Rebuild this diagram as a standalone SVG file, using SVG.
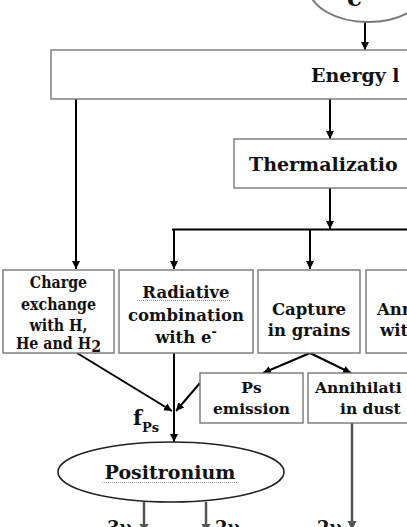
<svg xmlns="http://www.w3.org/2000/svg" width="407" height="527" viewBox="0 0 407 527">
<defs>
<style>
.box{fill:#fff;stroke:#777;stroke-width:1.4}
.t{font-family:"DejaVu Serif",serif;font-weight:bold;fill:#111}
.s{font-size:16.5px;text-anchor:middle}
.c{font-family:"DejaVu Serif Condensed","DejaVu Serif",serif;font-size:15.8px}
.m{font-size:15.5px}
.big{font-size:19px}
.ln{stroke:#000;stroke-width:2;fill:none}
.gl{stroke:#555;stroke-width:2.5;fill:none}
.ul{stroke:#999;stroke-width:1;stroke-dasharray:1 1;fill:none}
</style>
<marker id="ah" viewBox="0 0 10 10" refX="10" refY="5" markerWidth="8" markerHeight="10" markerUnits="userSpaceOnUse" orient="auto"><path d="M0,0L10,5L0,10z" fill="#000"/></marker>
<marker id="ag" viewBox="0 0 10 10" refX="10" refY="5" markerWidth="9" markerHeight="10" markerUnits="userSpaceOnUse" orient="auto"><path d="M0,0L10,5L0,10z" fill="#555"/></marker>
</defs>
<rect width="407" height="527" fill="#fff"/>

<g id="connectors">
<line class="ln" x1="365" y1="22" x2="365" y2="50" marker-end="url(#ah)"/>
<line class="ln" x1="76" y1="99" x2="76" y2="269" marker-end="url(#ah)"/>
<line class="ln" x1="330" y1="99" x2="330" y2="139" marker-end="url(#ah)"/>
<line class="ln" x1="330" y1="188" x2="330" y2="229" marker-end="url(#ah)"/>
<line class="ln" x1="172" y1="229.5" x2="410" y2="229.5"/>
<line class="ln" x1="174" y1="229" x2="174" y2="269" marker-end="url(#ah)"/>
<line class="ln" x1="310" y1="229" x2="310" y2="269" marker-end="url(#ah)"/>
<line class="ln" x1="77" y1="353" x2="172" y2="411" marker-end="url(#ah)"/>
<line class="ln" x1="200" y1="383" x2="176" y2="411" marker-end="url(#ah)"/>
<line class="ln" x1="174" y1="353" x2="174" y2="442" marker-end="url(#ah)"/>
<line class="ln" x1="310" y1="353" x2="263" y2="373" marker-end="url(#ah)"/>
<line class="ln" x1="310" y1="353" x2="351" y2="373" marker-end="url(#ah)"/>
<line class="gl" x1="144" y1="502" x2="144" y2="533" marker-end="url(#ag)"/>
<line class="gl" x1="206" y1="502" x2="206" y2="533" marker-end="url(#ag)"/>
<line class="gl" x1="352" y1="423" x2="352" y2="530" marker-end="url(#ag)"/>
</g>

<g id="electron">
<ellipse cx="368" cy="-13" rx="59" ry="35" fill="#fff" stroke="#777" stroke-width="2"/>
<text class="t" x="347" y="6" style="font-size:24px">e</text>
</g>

<g id="energy">
<rect class="box" x="51" y="50" width="370" height="49"/>
<text class="t big" x="311" y="82">Energy l</text>
</g>

<g id="thermalization">
<rect class="box" x="234" y="139" width="190" height="49" stroke="#333"/>
<text class="t big" x="249" y="171">Thermalizatio</text>
</g>

<g id="charge">
<rect class="box" x="3" y="270" width="111" height="83"/>
<text class="t s c" x="58.5" y="288">Charge</text>
<text class="t s c" x="58.5" y="310">exchange</text>
<text class="t s c" x="58.5" y="331">with H,</text>
<text class="t s c" x="58.5" y="349">He and H<tspan dy="3">2</tspan></text>
</g>

<g id="radiative">
<rect class="box" x="119" y="270" width="134" height="83"/>
<text class="t s" x="186" y="298">Radiative</text>
<line class="ul" x1="137" y1="300.5" x2="230" y2="300.5"/>
<text class="t s" x="186" y="321">combination</text>
<text class="t s" x="186" y="343">with e<tspan dy="-7" font-size="13">-</tspan></text>
</g>

<g id="capture">
<rect class="box" x="258" y="270" width="102" height="83"/>
<text class="t s" x="309" y="315">Capture</text>
<text class="t s" x="309" y="336">in grains</text>
</g>

<g id="annihilation-with">
<rect class="box" x="366" y="270" width="60" height="83"/>
<text class="t s" x="377" y="315" style="text-anchor:start">Ann</text>
<text class="t s" x="380" y="336" style="text-anchor:start">wit</text>
</g>

<g id="ps-emission">
<rect class="box" x="200" y="373" width="103" height="50"/>
<text class="t s m" x="251.5" y="393">Ps</text>
<text class="t s m" x="251.5" y="414">emission</text>
</g>

<g id="annihilation-dust">
<rect class="box" x="308" y="373" width="110" height="50"/>
<text class="t s m" x="315" y="393" style="text-anchor:start">Annihilati</text>
<text class="t s m" x="340" y="414" style="text-anchor:start">in dust</text>
</g>

<g id="fps">
<text class="t" x="133" y="425" style="font-size:21px">f<tspan dy="7" font-size="13">Ps</tspan></text>
</g>

<g id="positronium">
<ellipse cx="171" cy="472" rx="113" ry="30" fill="#fff" stroke="#222" stroke-width="1.6"/>
<text class="t" x="170" y="479" style="font-size:19px;text-anchor:middle">Positronium</text>
<line class="ul" x1="102" y1="482.5" x2="238" y2="482.5"/>
</g>

<g id="labels">
<text class="t" x="107" y="534" style="font-size:18px">3γ</text>
<text class="t" x="215" y="534" style="font-size:18px">2γ</text>
<text class="t" x="317" y="534" style="font-size:18px">2γ</text>
</g>
</svg>
